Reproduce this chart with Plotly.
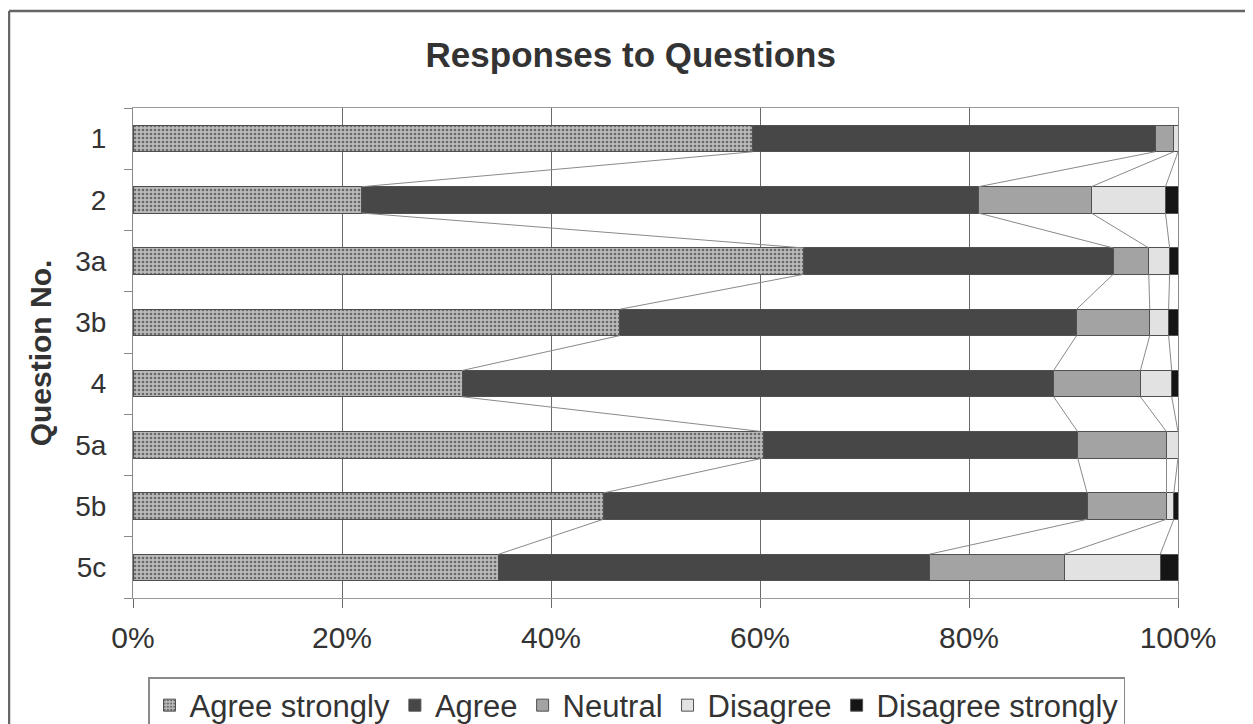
import plotly.graph_objects as go

questions = ["1", "2", "3a", "3b", "4", "5a", "5b", "5c"]
series_names = ["Agree strongly", "Agree", "Neutral", "Disagree", "Disagree strongly"]
agree_strongly = [59.3, 21.9, 64.2, 46.6, 31.5, 60.3, 45.0, 35.0]
agree = [38.5, 59.0, 29.6, 43.7, 56.6, 30.1, 46.3, 41.2]
neutral = [1.8, 10.8, 3.4, 7.0, 8.3, 8.5, 7.6, 12.9]
disagree = [0.4, 7.1, 2.0, 1.8, 3.0, 1.1, 0.7, 9.2]
disagree_strongly = [0.0, 1.2, 0.8, 0.9, 0.6, 0.0, 0.4, 1.7]
x_ticks = [0, 20, 40, 60, 80, 100]
x_tick_labels = ["0%", "20%", "40%", "60%", "80%", "100%"]

series_values = [agree_strongly, agree, neutral, disagree, disagree_strongly]
colors = ["#b4b4b4", "#474747", "#a3a3a3", "#e2e2e2", "#151515"]

ypos = list(range(len(questions)))
bar_w = 0.43
FONT = "Liberation Sans, Arial, sans-serif"

fig = go.Figure()
for i, (name, vals) in enumerate(zip(series_names, series_values)):
    marker = dict(color=colors[i], line=dict(color="#505050", width=1))
    if i == 0:
        marker["pattern"] = dict(shape=".", fgcolor="#6a6a6a", bgcolor="#bababa",
                                 size=4, solidity=0.35, fillmode="replace")
    fig.add_trace(go.Bar(y=ypos, x=vals, name=name, orientation="h",
                         width=bar_w, marker=marker))

# Series lines (Excel style) connecting segment ends of adjacent bars
cums = []
running = [0.0] * len(questions)
for vals in series_values[:-1]:
    running = [r + v for r, v in zip(running, vals)]
    cums.append(list(running))
for cum in cums:
    xs, ys = [], []
    for j in range(len(questions) - 1):
        xs += [cum[j], cum[j + 1], None]
        ys += [ypos[j] + bar_w / 2, ypos[j + 1] - bar_w / 2, None]
    fig.add_trace(go.Scatter(x=xs, y=ys, mode="lines", showlegend=False,
                             hoverinfo="skip",
                             line=dict(color="#8a8a8a", width=1)))

W, H = 1253, 724
L, R, T, B = 125, 83, 100, 134
pw, ph = W - L - R, H - T - B

fig.update_layout(
    width=W, height=H,
    barmode="stack",
    plot_bgcolor="white", paper_bgcolor="white",
    margin=dict(l=L, r=R, t=T, b=B, pad=0, autoexpand=False),
    font=dict(family=FONT, color="#333333"),
    title=dict(text="<b>Responses to Questions</b>", x=0.497, xref="container",
               xanchor="center", y=1 - 47 / H, yanchor="middle",
               font=dict(size=35, color="#333333", family=FONT)),
    legend=dict(orientation="h", x=(140 - L) / pw, xanchor="left",
                y=-(669 - (H - B)) / ph, yanchor="top",
                traceorder="normal",
                bordercolor="#8a8a8a", borderwidth=1.5,
                font=dict(size=31, color="#333333", family=FONT),
                itemwidth=30, tracegroupgap=0),
    showlegend=True,
)
fig.update_xaxes(range=[0, 100], tickvals=x_ticks, ticktext=x_tick_labels,
                 showgrid=True, gridcolor="#6a6a6a", gridwidth=1.2,
                 showline=True, linecolor="#9a9a9a", linewidth=1.2, mirror=True,
                 ticks="outside", ticklen=9, tickcolor="#6a6a6a",
                 ticklabelstandoff=4, zeroline=False,
                 tickfont=dict(size=30, color="#333333", family=FONT))
fig.update_yaxes(range=[len(questions) - 0.5, -0.5], tickvals=ypos, ticktext=questions,
                 showgrid=False, zeroline=False,
                 showline=True, linecolor="#8a8a8a", linewidth=1.2, mirror=True,
                 ticks="", ticklabelstandoff=20,
                 minor=dict(tick0=0.5, dtick=1, ticks="outside", ticklen=8,
                            tickcolor="#8a8a8a", showgrid=False),
                 tickfont=dict(size=28, color="#333333", family=FONT),
                 title=dict(text="<b>Question No.</b>", standoff=14,
                            font=dict(size=30, color="#333333", family=FONT)))

# Outer chart frame (top and left edges visible in the reference)
x_left = (1 - L) / pw
y_top = 1 + (T - 3) / ph
fig.add_shape(type="line", xref="paper", yref="paper", x0=x_left, x1=x_left,
              y0=y_top, y1=-0.4, line=dict(color="#666666", width=2.5))
fig.add_shape(type="line", xref="paper", yref="paper", x0=x_left, x1=1.2,
              y0=y_top, y1=y_top, line=dict(color="#666666", width=2.5))

fig.write_html("out.html")
